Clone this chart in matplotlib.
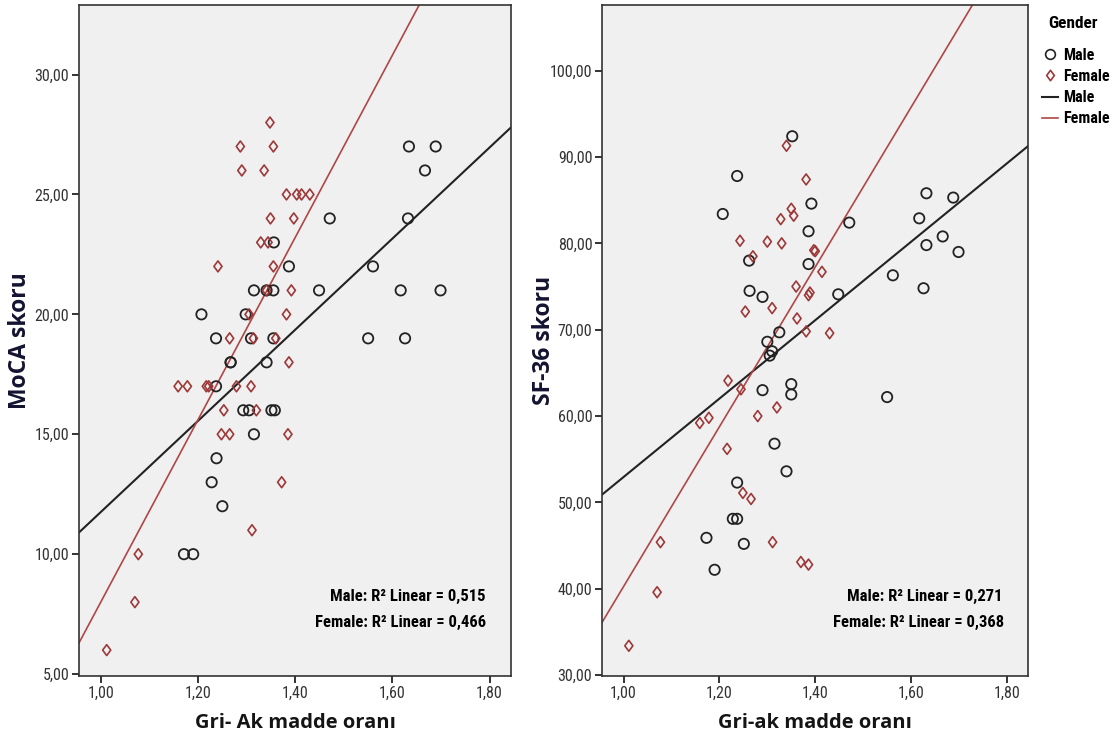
"""Gray/white matter ratio vs MoCA and SF-36 scores, by gender (SPSS-style scatter)."""

import os

import matplotlib.pyplot as plt
import numpy as np
from matplotlib import font_manager as fm
from matplotlib.path import Path

# ---- data ----
moca_male_x = [1.171, 1.190, 1.228, 1.238, 1.250, 1.237, 1.237, 1.207, 1.267, 1.293,
               1.305, 1.351, 1.358, 1.315, 1.267, 1.341, 1.309, 1.355, 1.298, 1.315,
               1.341, 1.355, 1.449, 1.387, 1.356, 1.471, 1.550, 1.560, 1.617, 1.699,
               1.626, 1.632, 1.667, 1.634, 1.689]
moca_male_y = [10, 10, 13, 14, 12, 17, 19, 20, 18, 16,
               16, 16, 16, 15, 18, 18, 19, 19, 20, 21,
               21, 21, 21, 22, 23, 24, 19, 22, 21, 21,
               19, 24, 26, 27, 27]

moca_female_x = [1.012, 1.070, 1.077, 1.311, 1.372, 1.248, 1.265, 1.385, 1.253, 1.320,
                 1.159, 1.178, 1.217, 1.222, 1.279, 1.309, 1.387, 1.265, 1.314, 1.360,
                 1.305, 1.382, 1.341, 1.392, 1.241, 1.355, 1.329, 1.344, 1.349, 1.397,
                 1.382, 1.403, 1.413, 1.430, 1.290, 1.336, 1.287, 1.355, 1.348]
moca_female_y = [6, 8, 10, 11, 13, 15, 15, 15, 16, 16,
                 17, 17, 17, 17, 17, 17, 18, 19, 19, 19,
                 20, 20, 21, 21, 22, 22, 23, 23, 24, 24,
                 25, 25, 25, 25, 26, 26, 27, 27, 28]

sf_male_x = [1.173, 1.190, 1.228, 1.237, 1.251, 1.237, 1.237, 1.207, 1.262, 1.263,
             1.290, 1.300, 1.305, 1.310, 1.325, 1.290, 1.350, 1.350, 1.315, 1.340,
             1.352, 1.392, 1.386, 1.386, 1.448, 1.471, 1.550, 1.562, 1.617, 1.626,
             1.632, 1.632, 1.666, 1.688, 1.699]
sf_male_y = [45.9, 42.2, 48.1, 48.1, 45.2, 52.3, 87.8, 83.4, 78.0, 74.5,
             73.8, 68.6, 67.0, 67.5, 69.7, 63.0, 63.7, 62.5, 56.8, 53.6,
             92.4, 84.6, 81.4, 77.6, 74.1, 82.4, 62.2, 76.3, 82.9, 74.8,
             79.8, 85.8, 80.8, 85.3, 79.0]

sf_female_x = [1.011, 1.070, 1.077, 1.159, 1.178, 1.218, 1.216, 1.243, 1.245, 1.254,
               1.249, 1.266, 1.311, 1.370, 1.386, 1.270, 1.300, 1.310, 1.330, 1.340,
               1.350, 1.355, 1.360, 1.362, 1.280, 1.320, 1.381, 1.397, 1.400, 1.414,
               1.386, 1.389, 1.381, 1.430, 1.328]
sf_female_y = [33.4, 39.6, 45.4, 59.2, 59.8, 64.1, 56.2, 80.3, 63.1, 72.1,
               51.1, 50.4, 45.4, 43.1, 42.8, 78.5, 80.2, 72.5, 80.0, 91.3,
               84.0, 83.2, 75.0, 71.3, 60.0, 61.0, 87.4, 79.2, 79.1, 76.7,
               74.0, 74.3, 69.8, 69.6, 82.8]

# fitted lines as drawn in the reference: (intercept, slope)
moca_fit = {"Male": (-7.24, 19.0), "Female": (-29.99, 38.0)}
sf_fit = {"Male": (7.54, 45.4), "Female": (-52.24, 92.5)}

moca_r2 = {"Male": "0,515", "Female": "0,466"}
sf_r2 = {"Male": "0,271", "Female": "0,368"}

x_ticks = [1.0, 1.2, 1.4, 1.6, 1.8]
moca_ticks = [5, 10, 15, 20, 25, 30]
sf_ticks = [30, 40, 50, 60, 70, 80, 90, 100]

MALE_C = "#222222"
FEMALE_C = "#9e3838"
FEMALE_LINE = "#b04646"
LABEL_FONT = ["Open Sans", "DejaVu Sans"]

DIAMOND = Path([(0, 1), (0.74, 0), (0, -1), (-0.74, 0), (0, 1)],
               [Path.MOVETO, Path.LINETO, Path.LINETO, Path.LINETO, Path.CLOSEPOLY])

FAMILY_BONUS = {"liberation": 8, "roboto": 5, "noto": 5, "open": 4, "dejavu": -8}


def find_narrow(bold):
    """Pick an installed condensed sans face (SPSS charts use Arial Narrow)."""
    best, best_score = None, -99
    for f in fm.fontManager.ttflist:
        tag = (f.name + " " + os.path.basename(f.fname)).lower()
        if "mono" in tag or "italic" in tag or f.style != "normal":
            continue
        if "narrow" not in tag and "condensed" not in tag:
            continue
        if "extra" in tag or "ultra" in tag:
            continue
        w = f.weight if isinstance(f.weight, int) else (700 if f.weight == "bold" else 400)
        score = 10
        if "semi" in tag:
            score -= 3
        score -= abs(w - (700 if bold else 400)) // 100 * 2
        for key, bonus in FAMILY_BONUS.items():
            if key in tag:
                score += bonus
        if score > best_score:
            best, best_score = f.fname, score
    return best


_nb = find_narrow(True)
_nr = find_narrow(False)


def narrow_font(size, bold=True):
    path = _nb if bold else _nr
    if path:
        return fm.FontProperties(fname=path, size=size)
    return fm.FontProperties(family=["Liberation Sans", "DejaVu Sans"],
                             weight="bold" if bold else "normal",
                             size=size * 0.86)


def comma(v):
    return f"{v:.2f}".replace(".", ",")


def draw_panel(ax, mx, my, fx, fy, fits, r2, yticks, ylim, ylabel, xlabel):
    ax.set_facecolor("#f0f0f0")
    ax.scatter(mx, my, s=55, marker="o", facecolors="none",
               edgecolors=MALE_C, linewidths=1.3, zorder=3)
    ax.scatter(fx, fy, s=62, marker=DIAMOND, facecolors="none",
               edgecolors=FEMALE_C, linewidths=1.2, zorder=3)

    xs = np.array([0.955, 1.844])
    b, m = fits["Male"]
    ax.plot(xs, b + m * xs, color=MALE_C, lw=1.5, zorder=2)
    b, m = fits["Female"]
    ax.plot(xs, b + m * xs, color=FEMALE_LINE, lw=1.2, zorder=2)

    ax.set_xlim(0.955, 1.844)
    ax.set_ylim(*ylim)
    ax.set_xticks(x_ticks)
    ax.set_xticklabels([comma(t) for t in x_ticks])
    ax.set_yticks(yticks)
    ax.set_yticklabels([comma(t) for t in yticks])
    ax.tick_params(direction="out", length=5, width=1.2, colors="#111111",
                   labelcolor="#333333", pad=2)
    for lab in ax.get_xticklabels() + ax.get_yticklabels():
        lab.set_fontproperties(narrow_font(11.5, bold=False))
    for sp in ax.spines.values():
        sp.set_color("#333333")
        sp.set_linewidth(1.2)

    ax.set_ylabel(ylabel, family=LABEL_FONT, fontweight="bold",
                  fontsize=16.5, color="#141432")
    ax.set_xlabel(xlabel, family=LABEL_FONT, fontweight="bold",
                  fontsize=14.5, color="#141414", labelpad=9)

    ax.text(0.94, 0.118, f"Male: R² Linear = {r2['Male']}",
            transform=ax.transAxes, ha="right", va="center",
            fontproperties=narrow_font(12))
    ax.text(0.943, 0.079, f"Female: R² Linear = {r2['Female']}",
            transform=ax.transAxes, ha="right", va="center",
            fontproperties=narrow_font(12))


fig = plt.figure(figsize=(11.13, 7.44), dpi=100)
ax1 = fig.add_axes([79 / 1113, 68 / 744, 432 / 1113, 671 / 744])
ax2 = fig.add_axes([602 / 1113, 68 / 744, 426 / 1113, 671 / 744])

draw_panel(ax1, moca_male_x, moca_male_y, moca_female_x, moca_female_y,
           moca_fit, moca_r2, moca_ticks, (4.92, 32.9),
           "MoCA skoru", "Gri- Ak madde oranı")
draw_panel(ax2, sf_male_x, sf_male_y, sf_female_x, sf_female_y,
           sf_fit, sf_r2, sf_ticks, (29.9, 107.6),
           "SF-36 skoru", "Gri-ak madde oranı")
ax1.yaxis.set_label_coords(-47 / 432, 0.5)
ax2.yaxis.set_label_coords(-46 / 426, 0.5)

# legend to the right of the second panel
fig.text(1048 / 1113, 1 - 23 / 744, "Gender", ha="left", va="center",
         fontproperties=narrow_font(12.5))
handles = [
    plt.Line2D([], [], ls="none", marker="o", mfc="none", mec=MALE_C, ms=7, mew=1.2),
    plt.Line2D([], [], ls="none", marker=DIAMOND, mfc="none", mec=FEMALE_C, ms=7.5, mew=1.2),
    plt.Line2D([], [], color=MALE_C, lw=1.5),
    plt.Line2D([], [], color=FEMALE_LINE, lw=1.2),
]
fig.legend(handles, ["Male", "Female", "Male", "Female"],
           loc="upper left", bbox_to_anchor=(1042 / 1113, 1 - 48 / 744),
           frameon=False, handlelength=1.0, handletextpad=0.3,
           labelspacing=0.38, borderpad=0, borderaxespad=0,
           prop=narrow_font(11.5))

fig.savefig("out.png", dpi=100)
